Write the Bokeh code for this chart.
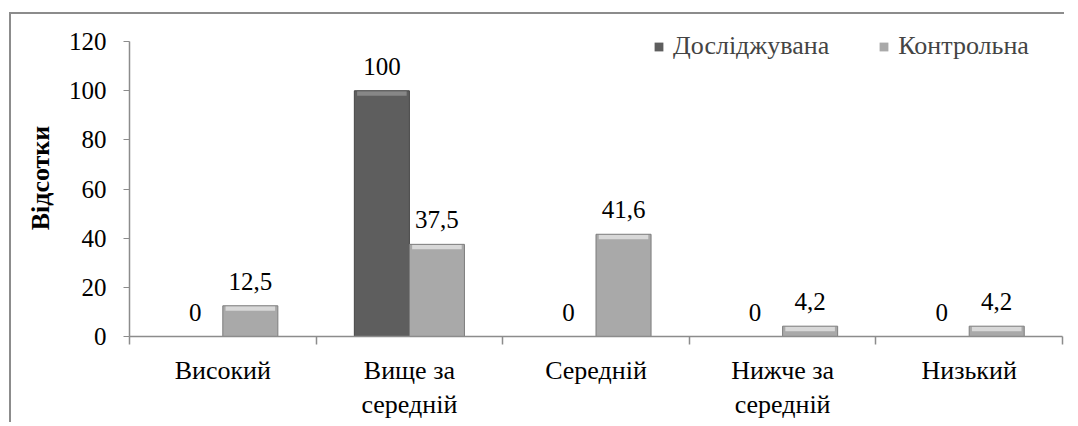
from bokeh.plotting import figure
from bokeh.models import (ColumnDataSource, Range1d, FixedTicker, Legend, LegendItem, LabelSet)
from bokeh.core.properties import value
from bokeh.embed import file_html
from bokeh.resources import INLINE

categories = ["Високий", "Вище за\nсередній", "Середній", "Нижче за\nсередній", "Низький"]
series_names = ["Досліджувана", "Контрольна"]
studied = [0, 100, 0, 0, 0]
control = [12.5, 37.5, 41.6, 4.2, 4.2]
y_ticks = [0, 20, 40, 60, 80, 100, 120]

FONT = "Liberation Serif"
DARK = "#5e5e5e"
DARK_TOP = "#878787"
DARK_EDGE = "#454545"
LIGHT = "#a9a9a9"
LIGHT_TOP = "#d8d8d8"
LIGHT_EDGE = "#7d7d7d"

Y_END = 129
FRAME_H = 317
BEVEL = 5 * Y_END / FRAME_H  # ~5px expressed in data units

n = len(categories)
centers = [i + 0.5 for i in range(n)]
bw = 0.295
off = bw / 2

def fmt(v):
    return ("%g" % v).replace(".", ",")

def bevel_bottom(vals):
    return [max(v - BEVEL, 0) for v in vals]

src_s = ColumnDataSource(dict(x=[c - off for c in centers], top=studied,
                              bb=bevel_bottom(studied),
                              lbl=[fmt(v) for v in studied]))
src_c = ColumnDataSource(dict(x=[c + off for c in centers], top=control,
                              bb=bevel_bottom(control),
                              lbl=[fmt(v) for v in control]))

p = figure(width=1070, height=418, output_backend="svg", toolbar_location=None,
           x_range=Range1d(0, n), y_range=Range1d(0, Y_END),
           min_border_left=129, min_border_right=2, min_border_top=19, min_border_bottom=60)
p.frame_width = 933
p.frame_height = FRAME_H
p.outline_line_color = None
p.grid.grid_line_color = None
p.background_fill_color = "white"
p.border_fill_alpha = 0
g = "linear-gradient(#8c8c8c, #8c8c8c)"
p.styles = {
    "background-color": "white",
    "background-image": f"{g}, {g}",
    "background-repeat": "no-repeat",
    "background-position": "9px 12px, 9px 12px",
    "background-size": "2px 100%, 100% 2px",
}

r1 = p.vbar(x="x", top="top", width=bw, source=src_s, fill_color=DARK, line_color=None)
p.vbar(x="x", top="top", bottom="bb", width=bw * 0.9, source=src_s, fill_color=DARK_TOP,
       line_color=None)
p.vbar(x="x", top="top", width=bw, source=src_s, fill_color=None,
       line_color=DARK_EDGE, line_width=1)
r2 = p.vbar(x="x", top="top", width=bw, source=src_c, fill_color=LIGHT, line_color=None)
p.vbar(x="x", top="top", bottom="bb", width=bw * 0.9, source=src_c, fill_color=LIGHT_TOP,
       line_color=None)
p.vbar(x="x", top="top", width=bw, source=src_c, fill_color=None,
       line_color=LIGHT_EDGE, line_width=1)

for src in (src_s, src_c):
    lab = LabelSet(x="x", y="top", text="lbl", source=src, text_align="center",
                   text_baseline="alphabetic", y_offset=16,
                   text_font=value(FONT), text_font_size="25px", text_color="black")
    p.add_layout(lab)

# y axis
yax = p.yaxis[0]
yax.ticker = FixedTicker(ticks=y_ticks)
yax.bounds = (0, 120)
yax.axis_line_color = "#8c8c8c"
yax.axis_line_width = 1.5
yax.major_tick_line_color = "#8c8c8c"
yax.major_tick_in = 0
yax.major_tick_out = 6
yax.minor_tick_line_color = None
yax.major_label_text_font = FONT
yax.major_label_text_font_size = "25px"
yax.major_label_text_color = "black"
yax.major_label_standoff = 17
yax.axis_label = "Відсотки"
yax.axis_label_text_font = FONT
yax.axis_label_text_font_style = "bold"
yax.axis_label_text_font_size = "26px"
yax.axis_label_text_color = "black"
yax.axis_label_standoff = 11

# x axis
xax = p.xaxis[0]
xax.ticker = FixedTicker(ticks=centers, minor_ticks=list(range(n + 1)))
xax.major_label_overrides = {c: lab for c, lab in zip(centers, categories)}
xax.axis_line_color = "#8c8c8c"
xax.axis_line_width = 1.5
xax.major_tick_line_color = None
xax.minor_tick_line_color = "#8c8c8c"
xax.minor_tick_line_width = 1.5
xax.minor_tick_in = 0
xax.minor_tick_out = 8
xax.major_label_text_font = FONT
xax.major_label_text_font_size = "26px"
xax.major_label_text_color = "black"
xax.major_label_standoff = 11

legend = Legend(items=[LegendItem(label=series_names[0], renderers=[r1]),
                       LegendItem(label=series_names[1], renderers=[r2])],
                orientation="horizontal", location=(524, 275),
                label_text_font=FONT, label_text_font_size="26px",
                glyph_width=11, glyph_height=11, label_standoff=9, spacing=49,
                padding=0, margin=0, border_line_color=None, background_fill_alpha=0)
p.add_layout(legend)

open("out.html", "w").write(file_html(p, INLINE))
